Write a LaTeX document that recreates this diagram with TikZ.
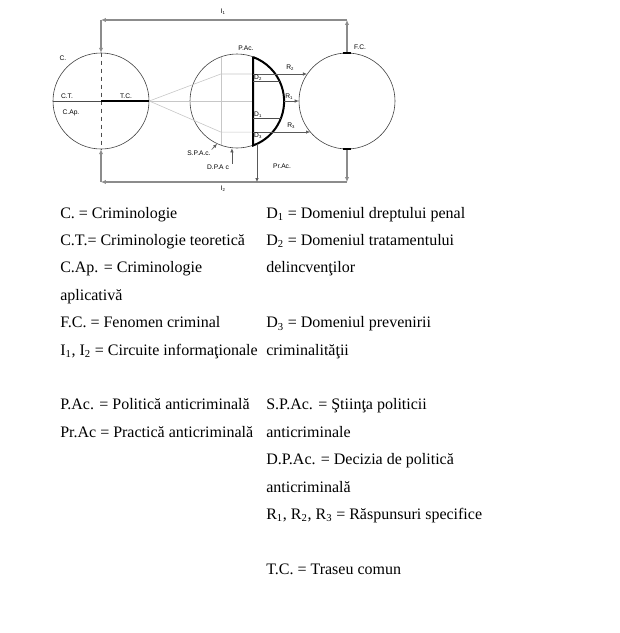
\documentclass[tikz,border=0pt]{standalone}
\usepackage{fontspec}
\setmainfont{Liberation Serif}
\newfontfamily\diagfont{Liberation Sans}
\usetikzlibrary{arrows.meta, positioning, calc}

\newcommand\lsub[1]{\raisebox{-0.6pt}{\fontsize{3.2}{4}\selectfont#1}}

\tikzset{
  ring/.style={circle, draw=black!75, line width=0.45pt, inner sep=0pt},
  lbl/.style={font=\diagfont\fontsize{5}{6}\selectfont, inner sep=0.6pt},
  flow/.style={draw=black!45, line width=1.1pt, -{Latex[length=3.6pt, width=3.2pt]}},
  tip/.style={draw=black!65, line width=0.45pt, -{Latex[length=3pt, width=2.6pt]}},
  fan/.style={draw=black!22, line width=0.45pt},
  thin/.style={draw=black!70, line width=0.45pt},
  bold/.style={draw=black, line width=1.5pt},
  legend/.style={anchor=base west, inner sep=0pt, font=\fontsize{12}{14}\selectfont}
}

\begin{document}
\begin{tikzpicture}[x=0.75pt, y=-0.75pt]
  \useasboundingbox (0,0) rectangle (619,633);

  % the three circles
  \node[ring, minimum size=72pt] (c) at (101,101) {};
  \node[ring, minimum size=70.5pt] (pac) at (237,101) {};
  \node[ring, minimum size=72pt] (fc) at (347,101) {};

  % criminologie
  \draw[thin] (c.west) -- (c.east);
  \draw[thin, dashed] (c.north) -- (c.south);
  \draw[bold] (c.center) -- (c.east);

  % traseu comun towards the policy circle
  \coordinate (f2) at (pac.110 |- fc.146);
  \coordinate (f3) at (pac.250 |- fc.220);
  \draw[fan] (pac.110) -- (pac.250);
  \draw[fan] (c.east) -- (f2) -- (f2 -| pac.70);
  \draw[fan] (c.east) -- (c.east -| pac.70);
  \draw[fan] (c.east) -- (f3) -- (f3 -| pac.70);

  % domains
  \draw[bold] (pac.70) -- (pac.-70) arc[start angle=-70, end angle=70, radius=35.25pt];
  \draw[thin] (pac.24 -| pac.70) -- (pac.24);
  \draw[thin] (pac.-22 -| pac.70) -- (pac.-22);

  % responses
  \draw[tip] (f2 -| pac.70) -- (fc.146);
  \draw[tip] (pac.east) -- (fc.west);
  \draw[tip] (f3 -| pac.70) -- (fc.220);

  % information circuits
  \coordinate (i1) at (223,20);
  \coordinate (i2) at (223,182);
  \draw[flow] (fc.north) -- (fc.north |- i1);
  \draw[flow] (fc.north |- i1) -- (c.north |- i1);
  \draw[flow] (c.north |- i1) -- (c.north);
  \draw[flow] (fc.south) -- (fc.south |- i2);
  \draw[flow] (fc.south |- i2) -- (c.south |- i2);
  \draw[flow] (c.south |- i2) -- (c.south);
  \draw[tip] (pac.-65) -- (pac.-65 |- i2);
  \draw[line width=1.6pt] ([xshift=-3pt]fc.north) -- ([xshift=3pt]fc.north);
  \draw[line width=1.6pt] ([xshift=-3pt]fc.south) -- ([xshift=3pt]fc.south);

  % labels
  \node[lbl] (lc) at (63,58) {C.};
  \node[lbl] (lct) at (67,96) {C.T.};
  \node[lbl] (ltc) at (126,96) {T.C.};
  \node[lbl] (lcap) at (71,113) {C.Ap.};
  \node[lbl] (lpac) at (246,48) {P.Ac.};
  \node[lbl] (lfc) at (360,47) {F.C.};
  \node[lbl] (li1) at (223,12) {I\lsub{1}};
  \node[lbl] (li2) at (223,189) {I\lsub{2}};
  \node[lbl] (lr2) at (290,68) {R\lsub{2}};
  \node[lbl] (lr1) at (289,97) {R\lsub{1}};
  \node[lbl] (lr3) at (291,126) {R\lsub{3}};
  \node[lbl, anchor=south west] (ld2) at (pac.24 -| pac.70) {D\lsub{2}};
  \node[lbl, anchor=south west] (ld1) at (pac.-22 -| pac.70) {D\lsub{1}};
  \node[lbl, anchor=north west] (ld3) at (f3 -| pac.70) {D\lsub{3}};
  \node[lbl] (lprac) at (282,166) {Pr.Ac.};
  \node[lbl] (lspac) at (199,153) {S.P.A.c.};
  \node[lbl] (ldpac) at (218,167) {D.P.A c};
  \draw[tip] (lspac.north east) -- (pac.-115);
  \draw[tip] ([xshift=1.5pt]ldpac.north east) -- ([xshift=1.5pt]ldpac.north east |- pac.south);

  % legend
  \foreach \n/\t in {1/{C. = Criminologie}, 2/{C.T.= Criminologie teoretică},
      3/{C.Ap. = Criminologie}, 4/{aplicativă}, 5/{F.C. = Fenomen criminal},
      6/{I\textsubscript{1}, I\textsubscript{2} = Circuite informaţionale},
      8/{P.Ac. = Politică anticriminală}, 9/{Pr.Ac = Practică anticriminală}}
    \node[legend] (la\n) at (60,{218+27.4*(\n-1)}) {\t};
  \foreach \n/\t in {1/{D\textsubscript{1} = Domeniul dreptului penal},
      2/{D\textsubscript{2} = Domeniul tratamentului}, 3/{delincvenţilor},
      5/{D\textsubscript{3} = Domeniul prevenirii}, 6/{criminalităţii},
      8/{S.P.Ac. = Ştiinţa politicii}, 9/{anticriminale},
      10/{D.P.Ac. = Decizia de politică}, 11/{anticriminală},
      12/{R\textsubscript{1}, R\textsubscript{2}, R\textsubscript{3} = Răspunsuri specifice},
      14/{T.C. = Traseu comun}}
    \node[legend] (lb\n) at (266,{218+27.4*(\n-1)}) {\t};
\end{tikzpicture}
\end{document}
